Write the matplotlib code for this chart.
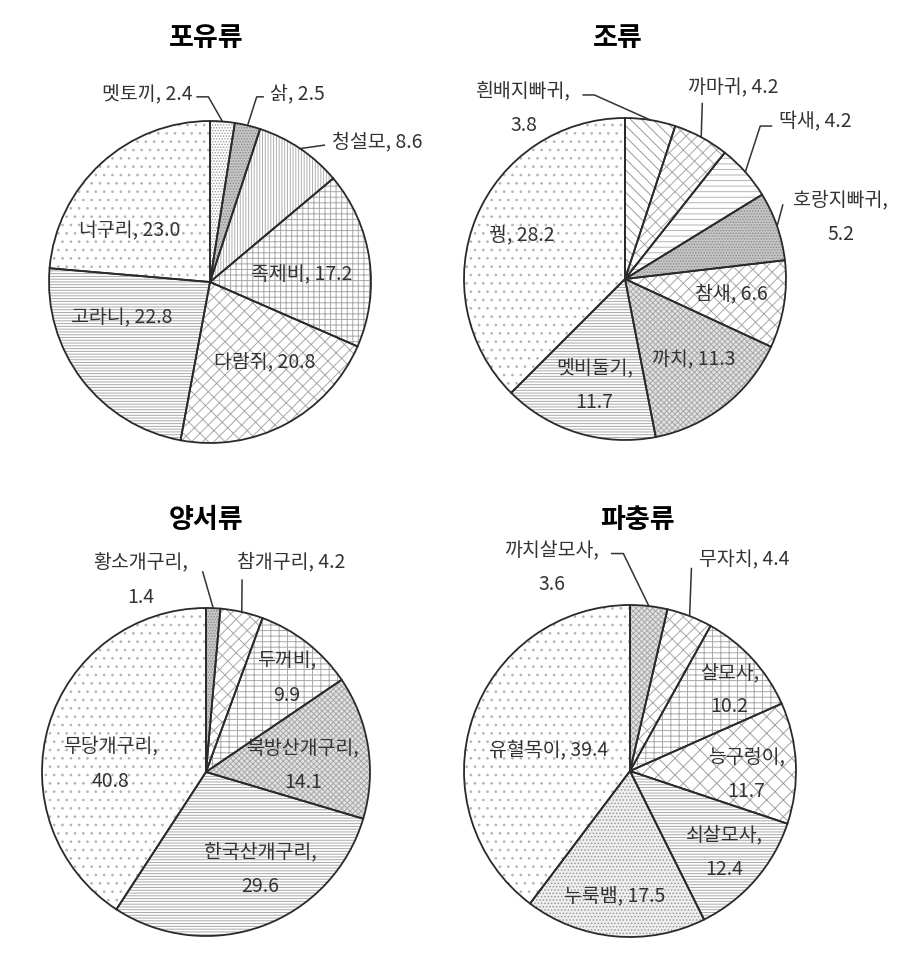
import numpy as np
import matplotlib
matplotlib.use('Agg')
import matplotlib.pyplot as plt

plt.rcParams['font.family'] = ['Noto Sans CJK KR', 'DejaVu Sans']
plt.rcParams['hatch.linewidth'] = 0.7

W, H = 910, 960

# --- data (%) ---
mammal_names = ['멧토끼', '삵', '청설모', '족제비', '다람쥐', '고라니', '너구리']
mammal_vals = [2.4, 2.5, 8.6, 17.2, 20.8, 22.8, 23.0]

bird_names = ['흰배지빠귀', '까마귀', '딱새', '호랑지빠귀', '참새', '까치', '멧비둘기', '꿩']
bird_vals = [3.8, 4.2, 4.2, 5.2, 6.6, 11.3, 11.7, 28.2]

amph_names = ['황소개구리', '참개구리', '두꺼비', '북방산개구리', '한국산개구리', '무당개구리']
amph_vals = [1.4, 4.2, 9.9, 14.1, 29.6, 40.8]

rept_names = ['까치살모사', '무자치', '살모사', '능구렁이', '쇠살모사', '누룩뱀', '유혈목이']
rept_vals = [3.6, 4.4, 10.2, 11.7, 12.4, 17.5, 39.4]

# --- hatch styles (face colour, hatch, hatch colour) ---
DOTS_S = ('white', '..', '#b4b4b4')
DOTS_D = ('white', '......', '#9c9c9c')
GRAY_D = ('#c6c6c6', '......', '#8c8c8c')
CHECK = ('#e2e2e2', 'xxxxxx', '#a8a8a8')
VLINES = ('white', '||||||', '#b0b0b0')
HLINES = ('white', '------', '#a8a8a8')
GRID = ('white', '+++', '#a8a8a8')
DBRICK = ('white', '///\\\\', '#a8a8a8')
HBRICK = ('white', '---||', '#a8a8a8')
WAVE = ('white', '---', '#b4b4b4')
DDIAG = ('white', '\\\\\\', '#999999')
BIGX = ('white', 'xx', '#a0a0a0')
DOTS_G = ('#efefef', '.....', '#999999')

panels = [
    dict(title='포유류', tpos=(206, 38), c=(210, 282), r=161,
         names=mammal_names, vals=mammal_vals,
         styles=[DOTS_D, GRAY_D, VLINES, GRID, DBRICK, HLINES, DOTS_S],
         two=[False] * 7,
         lpos=[(-0.39, 1.17), (0.54, 1.17), (1.04, 0.87), (0.57, 0.05),
               (0.34, -0.50), (-0.55, -0.22), (-0.50, 0.32)],
         lead=[[(-0.08, 1.15), (-0.01, 1.15)], [(0.33, 1.15), (0.29, 1.15)],
               [(0.71, 0.85)], None, None, None, None]),
    dict(title='조류', tpos=(618, 38), c=(625, 279), r=161,
         names=bird_names, vals=bird_vals,
         styles=[DDIAG, DBRICK, WAVE, GRAY_D, DBRICK, CHECK, HLINES, DOTS_S],
         two=[True, False, False, True, False, False, True, False],
         lpos=[(-0.63, 1.06), (0.67, 1.19), (1.18, 0.975), (1.34, 0.385),
               (0.66, -0.09), (0.43, -0.50), (-0.19, -0.66), (-0.64, 0.27)],
         lead=[[(-0.26, 1.143), (-0.19, 1.143)], [(0.48, 1.09)],
               [(0.91, 0.95), (0.84, 0.95)], [(0.98, 0.46)],
               None, None, None, None]),
    dict(title='양서류', tpos=(206, 520), c=(206, 772), r=164,
         names=amph_names, vals=amph_vals,
         styles=[GRAY_D, DBRICK, HBRICK, CHECK, HLINES, DOTS_S],
         two=[True, False, True, True, True, True],
         lpos=[(-0.40, 1.17), (0.52, 1.28), (0.49, 0.57), (0.59, 0.04),
               (0.33, -0.59), (-0.58, 0.05)],
         lead=[[(-0.02, 1.22)], [(0.22, 1.17)], None, None, None, None]),
    dict(title='파충류', tpos=(638, 520), c=(630, 771), r=166,
         names=rept_names, vals=rept_vals,
         styles=[CHECK, DBRICK, HBRICK, BIGX, HLINES, DOTS_G, DOTS_S],
         two=[True, False, True, True, True, False, False],
         lpos=[(-0.47, 1.23), (0.69, 1.27), (0.60, 0.49), (0.70, -0.02),
               (0.57, -0.49), (-0.09, -0.76), (-0.49, 0.13)],
         lead=[[(-0.11, 1.31), (-0.04, 1.31)], [(0.37, 1.22)],
               None, None, None, None, None]),
]

fig = plt.figure(figsize=(W / 100, H / 100), dpi=100)
k = 1.5
txt_col = '#333333'

for p in panels:
    cx, cy = p['c']
    R = p['r']
    ax = fig.add_axes([(cx - k * R) / W, 1 - (cy + k * R) / H, 2 * k * R / W, 2 * k * R / H])
    ax.patch.set_visible(False)

    # filled + hatched wedges
    wedges, _ = ax.pie(p['vals'], startangle=90, counterclock=False, radius=1)
    for w, (fc, hatch, hc) in zip(wedges, p['styles']):
        w.set_facecolor(fc)
        w.set_hatch(hatch)
        w.set_edgecolor(hc)
        w.set_linewidth(0)
    # outlines on top
    ax.pie(p['vals'], startangle=90, counterclock=False, radius=1,
           wedgeprops=dict(fill=False, edgecolor='#2a2a2a', linewidth=1.3))

    for w, name, v, two, pos, lead in zip(wedges, p['names'], p['vals'],
                                          p['two'], p['lpos'], p['lead']):
        label = f'{name},\n{v:.1f}' if two else f'{name}, {v:.1f}'
        ax.text(pos[0], pos[1], label, ha='center', va='center', fontsize=14,
                color=txt_col, linespacing=1.85, multialignment='center')
        if lead is not None:
            mid = np.deg2rad((w.theta1 + w.theta2) / 2)
            pts = list(lead) + [(np.cos(mid), np.sin(mid))]
            xs, ys = zip(*pts)
            ax.plot(xs, ys, color='#333333', lw=1.1, clip_on=False)

    ax.set_xlim(-k, k)
    ax.set_ylim(-k, k)
    ax.set_aspect('equal')
    ax.axis('off')

    fig.text(p['tpos'][0] / W, 1 - p['tpos'][1] / H, p['title'], ha='center', va='center',
             fontsize=19.5, fontweight='bold', color='black')

fig.savefig('out.png', dpi=100, facecolor='white')
